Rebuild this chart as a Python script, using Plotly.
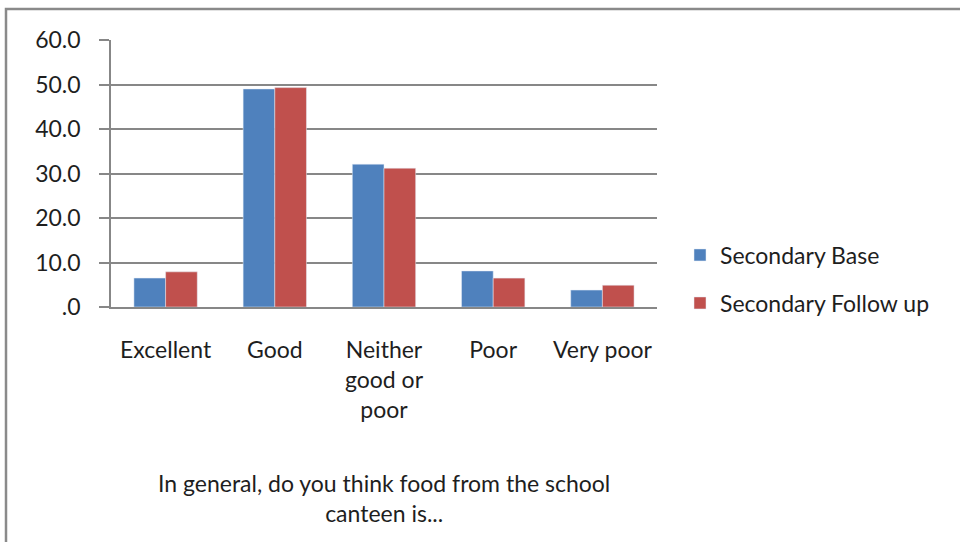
import plotly.graph_objects as go

categories = ["Excellent", "Good", "Neither good or poor", "Poor", "Very poor"]
category_labels = ["Excellent", "Good", "Neither<br>good or<br>poor", "Poor", "Very poor"]
base_values = [6.5, 49.0, 32.1, 8.1, 3.8]
followup_values = [7.9, 49.3, 31.2, 6.5, 4.9]
y_tick_values = [0, 10, 20, 30, 40, 50, 60]
y_tick_labels = [".0", "10.0", "20.0", "30.0", "40.0", "50.0", "60.0"]
series_names = ["Secondary Base", "Secondary Follow up"]
x_title = "In general, do you think food from the school<br>canteen is..."

FONT = "Lato, 'Open Sans', sans-serif"
FS = 23
BLUE = "#4F81BD"
RED = "#C0504D"
GRID = "#878787"
TEXT = "#1e1e1e"

fig = go.Figure()
fig.add_trace(go.Bar(x=categories, y=base_values, name=series_names[0],
                     marker=dict(color=BLUE), legend="legend"))
fig.add_trace(go.Bar(x=categories, y=followup_values, name=series_names[1],
                     marker=dict(color=RED), legend="legend2"))

L, R, T, B = 111, 303, 40, 235
W, H = 960, 542
pw, ph = W - L - R, H - T - B

def px_to_paper_x(px):
    return (px - L) / pw

def px_to_paper_y(py):
    return (H - B - py) / ph

fig.update_layout(
    width=W, height=H,
    margin=dict(l=L, r=R, t=T, b=B, pad=0),
    paper_bgcolor="white", plot_bgcolor="white",
    barmode="group", bargap=0.42, bargroupgap=0,
    font=dict(family=FONT, size=FS, color=TEXT),
    xaxis=dict(
        tickmode="array", tickvals=categories, ticktext=category_labels,
        showline=True, linecolor=GRID, linewidth=1.5,
        ticks="", showgrid=False, ticklabelstandoff=22,
        tickfont=dict(size=FS, family=FONT, color=TEXT),
    ),
    yaxis=dict(
        range=[0, 60], tickmode="array", tickvals=y_tick_values, ticktext=y_tick_labels,
        showline=True, linecolor=GRID, linewidth=1.5,
        showgrid=True, gridcolor=GRID, gridwidth=1.5,
        ticks="outside", ticklen=10, tickcolor=GRID, tickwidth=1.5,
        ticklabelstandoff=14,
        zeroline=False,
        tickfont=dict(size=FS, family=FONT, color=TEXT),
    ),
    showlegend=True,
    legend=dict(x=px_to_paper_x(680), y=px_to_paper_y(255), xanchor="left", yanchor="middle",
                bgcolor="rgba(0,0,0,0)", font=dict(size=FS, family=FONT, color=TEXT), itemwidth=30),
    legend2=dict(x=px_to_paper_x(680), y=px_to_paper_y(303), xanchor="left", yanchor="middle",
                 bgcolor="rgba(0,0,0,0)", font=dict(size=FS, family=FONT, color=TEXT), itemwidth=30),
    annotations=[dict(text=x_title, xref="paper", yref="paper",
                      x=px_to_paper_x(384), y=px_to_paper_y(498),
                      xanchor="center", yanchor="middle", showarrow=False,
                      font=dict(size=FS, family=FONT, color=TEXT))],
    shapes=[dict(type="rect", xref="paper", yref="paper",
                 x0=px_to_paper_x(6), x1=px_to_paper_x(1000),
                 y0=px_to_paper_y(600), y1=px_to_paper_y(9),
                 line=dict(color="#8a8a8a", width=2.5), fillcolor="rgba(0,0,0,0)", layer="below")],
)

fig.write_html("out.html", config={"displayModeBar": False},
               post_script="document.body.style.margin='0';document.body.style.padding='0';")
